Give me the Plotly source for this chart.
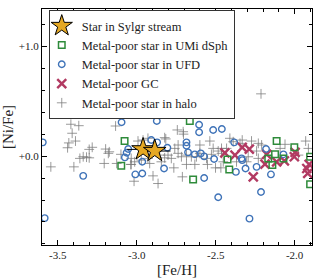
import plotly.graph_objects as go

# Star in Sylgr stream
star_feh = [-2.960, -2.886]
star_nife = [0.061, 0.046]
star_feh_err = [0.10, 0.10]

# Metal-poor star in UMi dSph
umi_feh = [-3.077, -3.098, -2.664, -2.643, -2.114, -2.425, -2.414, -2.167, -2.124,
           -2.141, -2.071, -2.002, -1.902, -1.902]
umi_nife = [0.137, -0.089, 0.320, -0.213, 0.137, -0.030, -0.122, -0.021, 0.016,
            -0.082, -0.021, 0.080, -0.006, -0.256]

# Metal-poor star in UFD
ufd_feh = [-3.096, -3.595, -3.339, -3.054, -3.064, -3.075, -2.873, -2.605, -2.605,
           -2.516, -2.461, -2.908, -2.871, -2.685, -2.685, -2.806, -2.675, -2.632,
           -2.594, -2.573, -2.510, -2.965, -2.827, -3.009, -2.965, -2.573, -2.484,
           -2.814, -2.916, -2.383, -2.336, -2.332, -2.372, -2.311, -2.241, -2.181,
           -2.150, -2.071, -2.213, -3.583, -2.286]
ufd_nife = [0.308, 0.125, -0.180, 0.064, 0.030, -0.012, 0.320, 0.286, 0.217,
            0.238, 0.247, 0.146, 0.125, 0.125, 0.094, 0.076, 0.034, 0.016,
            0.025, -0.003, -0.027, -0.052, -0.113, -0.167, -0.158, -0.199, -0.375,
            0.567, 0.448, 0.125, -0.021, -0.037, -0.144, -0.113, -0.098, 0.064,
            -0.167, 0.016, -0.327, -0.565, -0.570]

# Metal-poor GC
gc_feh = [-2.442, -2.378, -2.332, -2.287, -2.177, -2.188, -2.114, -2.065, -1.997,
          -2.002, -2.262, -1.923, -1.917, -1.908]
gc_nife = [0.030, 0.009, 0.080, 0.064, 0.016, -0.073, -0.052, -0.043, 0.034,
           -0.006, -0.189, -0.113, -0.158, -0.075]

# Metal-poor star in halo
halo_feh = [-3.417, -3.367, -3.409, -3.388, -3.438, -3.544, -3.398, -3.301, -3.282,
            -3.360, -3.339, -3.301, -3.197, -3.174, -3.206, -3.134, -3.100, -3.127,
            -3.038, -3.180, -3.318, -3.430,
            -2.743, -2.706, -2.816, -2.537, -2.992, -2.600, -2.759, -2.738, -2.717,
            -2.781, -2.685, -2.632, -2.552, -2.501, -3.035, -3.017, -2.897, -2.865,
            -2.711, -2.765, -2.484, -2.802, -2.971, -2.929, -2.918, -2.844, -2.823,
            -2.854, -3.035, -3.013, -2.654, -2.622, -2.685, -2.558, -2.516, -2.463,
            -2.738, -2.600, -2.527, -2.960, -2.929, -2.823, -2.704,
            -2.410, -2.332, -2.273, -2.230, -2.209, -2.463, -2.452, -2.467, -2.294,
            -2.230, -2.092, -1.930, -1.913, -2.368, -2.389, -2.346, -2.241, -2.061,
            -2.304, -1.976, -2.431, -2.213]
halo_nife = [0.290, 0.277, 0.208, 0.137, 0.076, -0.098, -0.098, 0.061, 0.080,
             -0.021, -0.006, -0.016, 0.064, 0.039, -0.067, 0.274, 0.016, -0.067,
             -0.076, 0.025, -0.010, 0.120,
             0.238, 0.222, 0.156, 0.137, 0.137, 0.101, 0.070, 0.025, -0.006,
             -0.021, -0.076, -0.076, -0.076, -0.107, -0.076, -0.229, -0.180, -0.250,
             -0.189, -0.107, 0.046, 0.009, -0.037, -0.021, -0.067, -0.052, -0.016,
             0.009, -0.021, -0.052, -0.006, -0.006, 0.009, -0.021, 0.070, 0.025,
             0.101, 0.025, 0.016, 0.146, 0.162, 0.168, 0.200,
             0.162, 0.146, 0.137, 0.116, 0.101, 0.070, -0.052, -0.107, -0.006,
             -0.021, 0.070, 0.137, 0.070, -0.052, 0.131, 0.116, 0.046, 0.107,
             -0.052, 0.009, 0.070, 0.567]

x_tickvals = [-3.5, -3.0, -2.5, -2.0]
x_ticktext = ["-3.5", "-3.0", "-2.5", "-2.0"]
y_tickvals = [0.0, 1.0]
y_ticktext = ["+0.0", "+1.0"]

FONT = "Liberation Serif, DejaVu Serif, serif"

fig = go.Figure()
fig.add_trace(go.Scatter(
    x=halo_feh, y=halo_nife, mode="markers", name="Metal-poor star in halo",
    marker=dict(symbol="cross-thin", size=7, color="rgba(120,120,120,0.75)",
                line=dict(width=1, color="rgba(120,120,120,0.75)"))))
fig.add_trace(go.Scatter(
    x=gc_feh, y=gc_nife, mode="markers", name="Metal-poor GC",
    marker=dict(symbol="x-thin", size=9, color="#B23A62", line=dict(width=2.4, color="#B23A62"))))
fig.add_trace(go.Scatter(
    x=ufd_feh, y=ufd_nife, mode="markers", name="Metal-poor star in UFD",
    marker=dict(symbol="circle-open", size=6.5, color="#3F73B8", line=dict(width=1.4))))
fig.add_trace(go.Scatter(
    x=umi_feh, y=umi_nife, mode="markers", name="Metal-poor star in UMi dSph",
    marker=dict(symbol="square-open", size=6.5, color="#2E8B3A", line=dict(width=1.5))))
fig.add_trace(go.Scatter(
    x=star_feh, y=star_nife, mode="markers", name="Star in Sylgr stream",
    error_x=dict(type="data", array=star_feh_err, color="black", thickness=1, width=0),
    marker=dict(symbol="star", size=17, color="#E5A823", line=dict(width=1, color="black"))))

axis_common = dict(showline=True, linecolor="black", linewidth=1.3, mirror="ticks",
                   showgrid=False, zeroline=False, ticks="inside", tickcolor="black",
                   automargin=False,
                   tickfont=dict(family=FONT, size=11, color="#222"))

fig.update_xaxes(range=[-3.60, -1.89], tickvals=x_tickvals, ticktext=x_ticktext,
                 ticklen=5, tickwidth=1,
                 minor=dict(dtick=0.1, tick0=0, ticks="inside", ticklen=3, tickcolor="black", tickwidth=1),
                 title=dict(text="[Fe/H]", font=dict(family=FONT, size=15, color="#222")),
                 **axis_common)
fig.update_yaxes(range=[-0.81, 1.34], tickvals=y_tickvals, ticktext=y_ticktext,
                 ticklen=5, tickwidth=1,
                 minor=dict(dtick=0.2, tick0=0, ticks="inside", ticklen=3, tickcolor="black", tickwidth=1),
                 title=dict(text="[Ni/Fe]", font=dict(family=FONT, size=15, color="#222")),
                 **axis_common)

fig.update_layout(
    width=314, height=278,
    margin=dict(l=42, r=2, t=9, b=33),
    paper_bgcolor="white", plot_bgcolor="white",
    showlegend=True,
    legend=dict(x=0.025, y=0.995, xanchor="left", yanchor="top",
                traceorder="reversed", bgcolor="white",
                bordercolor="#333", borderwidth=1,
                font=dict(family=FONT, size=12.5, color="#222"),
                itemwidth=30, tracegroupgap=0, indentation=-8),
)

fig.write_html("out.html", config={"displayModeBar": False},
               post_script="document.body.style.margin='0';")
